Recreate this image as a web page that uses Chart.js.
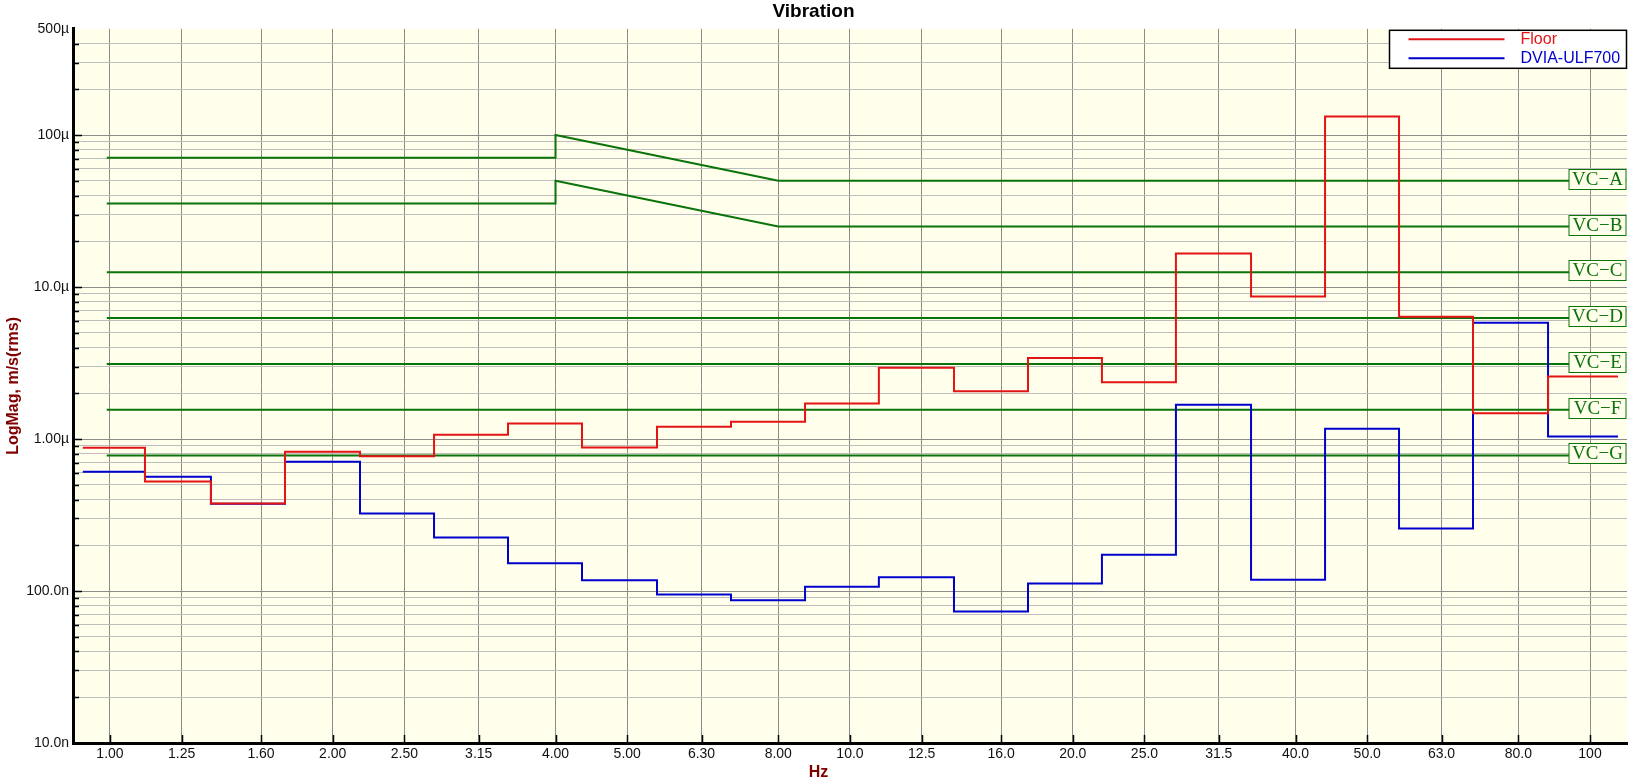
<!DOCTYPE html>
<html>
<head>
<meta charset="utf-8">
<title>Vibration</title>
<script src="https://cdn.jsdelivr.net/npm/chart.js@4.4.1/dist/chart.umd.min.js"></script>
<style>
  html, body { margin: 0; padding: 0; background: #fff; }
  #wrap { width: 1637px; height: 784px; }
</style>
</head>
<body>
<div id="wrap"><canvas id="vibChart"></canvas></div>
<script>
// DATA
let bandLabels = ['1.00', '1.25', '1.60', '2.00', '2.50', '3.15', '4.00', '5.00', '6.30', '8.00',
  '10.0', '12.5', '16.0', '20.0', '25.0', '31.5', '40.0', '50.0', '63.0', '80.0', '100'];
let bandCenters = [1, 1.25, 1.6, 2, 2.5, 3.15, 4, 5, 6.3, 8, 10, 12.5, 16, 20, 25, 31.5, 40, 50, 63, 80, 100];
// where the steps change (Hz)
let bandEdges = [0.919, 1.115, 1.369, 1.724, 2.177, 2.741, 3.450, 4.344, 5.485, 6.906, 8.695,
  10.94, 13.82, 17.40, 21.90, 27.57, 34.83, 43.85, 55.20, 69.49, 87.76, 109.1];

// m/s rms, one value per band
let floorValues = [0.877e-6, 0.526e-6, 0.377e-6, 0.825e-6, 0.769e-6, 1.067e-6, 1.267e-6, 0.881e-6, 1.205e-6, 1.30e-6,
  1.71e-6, 2.94e-6, 2.06e-6, 3.41e-6, 2.36e-6, 16.6e-6, 8.67e-6, 132.5e-6, 6.38e-6, 1.48e-6, 2.58e-6];
let dviaValues = [0.609e-6, 0.565e-6, 0.375e-6, 0.71e-6, 0.324e-6, 0.225e-6, 0.152e-6, 0.1175e-6, 0.095e-6, 0.0868e-6,
  0.1067e-6, 0.123e-6, 0.0734e-6, 0.112e-6, 0.173e-6, 1.68e-6, 0.1187e-6, 1.17e-6, 0.258e-6, 5.82e-6, 1.04e-6];

// vibration criteria curves
let vcNames = ['VC\u2212A', 'VC\u2212B', 'VC\u2212C', 'VC\u2212D', 'VC\u2212E', 'VC\u2212F', 'VC\u2212G'];
let vcSlopeFreq = [0.99, 4, 4, 8, 100];
let vcAValues = [71e-6, 71e-6, 100e-6, 50e-6, 50e-6];
let vcBValues = [35.5e-6, 35.5e-6, 50e-6, 25e-6, 25e-6];
let vcFlatFreq = [0.99, 100];
let vcFlatLevels = [12.5e-6, 6.25e-6, 3.12e-6, 1.56e-6, 0.78e-6];

// y axis labels
let yMajorValues = [1e-8, 1e-7, 1e-6, 1e-5, 1e-4, 5e-4];
let yMajorLabels = ['10.0n', '100.0n', '1.00\u00b5', '10.0\u00b5', '100\u00b5', '500\u00b5'];

let redColor = '#e31414';
let blueColor = '#0000cd';
let greenColor = '#0a730a';
let plotBg = '#ffffec';
let fontFamily = "'Liberation Sans', Arial, sans-serif";

// y grid: every 1..9 of each decade, up to 500u
let yTickValues = [];
for (let e = -8; e <= -5; e++) {
  for (let m = 1; m <= 9; m++) yTickValues.push(m * Math.pow(10, e));
}
[1e-4, 2e-4, 3e-4, 4e-4, 5e-4].forEach(v => yTickValues.push(v));

function majorIndex(v) {
  for (let i = 0; i < yMajorValues.length; i++) {
    if (Math.abs(v / yMajorValues[i] - 1) < 1e-6) return i;
  }
  return -1;
}

function stepPoints(vals) {
  let pts = [];
  vals.forEach((v, i) => {
    pts.push({x: bandEdges[i], y: v});
    pts.push({x: bandEdges[i + 1], y: v});
  });
  return pts;
}

let datasets = [
  {label: 'Floor', data: stepPoints(floorValues), borderColor: redColor, borderWidth: 2},
  {label: 'DVIA-ULF700', data: stepPoints(dviaValues), borderColor: blueColor, borderWidth: 2},
  {label: vcNames[0], vcLabel: true, data: vcSlopeFreq.map((f, i) => ({x: f, y: vcAValues[i]})), borderColor: greenColor, borderWidth: 2},
  {label: vcNames[1], vcLabel: true, data: vcSlopeFreq.map((f, i) => ({x: f, y: vcBValues[i]})), borderColor: greenColor, borderWidth: 2}
];
vcFlatLevels.forEach((lvl, k) => {
  datasets.push({label: vcNames[k + 2], vcLabel: true, data: vcFlatFreq.map(f => ({x: f, y: lvl})), borderColor: greenColor, borderWidth: 2});
});
datasets.forEach(d => { d.pointRadius = 0; d.fill = false; d.tension = 0; });

// plot background
const bgPlugin = {
  id: 'plotBg',
  beforeDraw(chart) {
    const {ctx, chartArea: a} = chart;
    ctx.save();
    ctx.fillStyle = plotBg;
    ctx.fillRect(a.left, a.top, a.right - a.left, a.bottom - a.top);
    ctx.restore();
  }
};

// short tick marks drawn inside the plot
const innerTicks = {
  id: 'innerTicks',
  beforeDatasetsDraw(chart) {
    const {ctx, chartArea: a, scales} = chart;
    ctx.save();
    ctx.strokeStyle = '#000';
    ctx.lineWidth = 1.5;
    ctx.beginPath();
    yTickValues.forEach(v => {
      if (v >= 5e-4 || v <= 1e-8) return;
      const y = Math.round(scales.y.getPixelForValue(v)) + 0.5;
      const len = majorIndex(v) >= 0 ? 9 : 6;
      ctx.moveTo(a.left, y);
      ctx.lineTo(a.left + len, y);
    });
    bandCenters.forEach(f => {
      const x = Math.round(scales.x.getPixelForValue(f)) + 0.5;
      ctx.moveTo(x, a.bottom);
      ctx.lineTo(x, a.bottom - 8);
    });
    ctx.stroke();
    ctx.restore();
  }
};

// boxed names at the right end of the criteria lines
const vcBoxes = {
  id: 'vcBoxes',
  afterDatasetsDraw(chart) {
    const {ctx, chartArea: a, scales} = chart;
    ctx.save();
    chart.data.datasets.forEach(ds => {
      if (!ds.vcLabel) return;
      const last = ds.data[ds.data.length - 1];
      const y = scales.y.getPixelForValue(last.y);
      const w = 57, h = 20;
      const x0 = a.right - w - 1, y0 = Math.round(y - h / 2 - 2) + 0.5;
      ctx.fillStyle = plotBg;
      ctx.fillRect(x0, y0, w, h);
      ctx.strokeStyle = greenColor;
      ctx.lineWidth = 1;
      ctx.strokeRect(x0, y0, w, h);
      ctx.fillStyle = greenColor;
      ctx.font = "19px 'Liberation Serif', 'DejaVu Serif', serif";
      ctx.textAlign = 'center';
      ctx.textBaseline = 'middle';
      ctx.fillText(ds.label, x0 + w / 2, y0 + h / 2 + 1);
    });
    ctx.restore();
  }
};

// boxed legend in the top right corner, plus the x axis title
const cornerLegend = {
  id: 'cornerLegend',
  afterDraw(chart) {
    const {ctx, chartArea: a} = chart;
    const bw = 238, bh = 38;
    const bx = a.right - bw + 0.5, by = a.top + 1.5;
    ctx.save();
    ctx.fillStyle = '#fff';
    ctx.fillRect(bx, by, bw - 1, bh);
    ctx.strokeStyle = '#000';
    ctx.lineWidth = 1.5;
    ctx.strokeRect(bx, by, bw - 1, bh);
    ctx.font = '16px ' + fontFamily;
    ctx.textBaseline = 'middle';
    ctx.textAlign = 'left';
    [0, 1].forEach((di, row) => {
      const ds = chart.data.datasets[di];
      const yy = by + 9 + row * 19;
      ctx.strokeStyle = ds.borderColor;
      ctx.lineWidth = 2;
      ctx.beginPath();
      ctx.moveTo(bx + 19, yy);
      ctx.lineTo(bx + 115, yy);
      ctx.stroke();
      ctx.fillStyle = ds.borderColor;
      ctx.fillText(ds.label, bx + 131, yy);
    });
    // "Hz" sits under the middle of the whole figure
    ctx.fillStyle = '#800000';
    ctx.font = 'bold 16px ' + fontFamily;
    ctx.textAlign = 'center';
    ctx.fillText('Hz', chart.width / 2, a.bottom + 30);
    ctx.restore();
  }
};

let vibCtx = document.getElementById('vibChart').getContext('2d');
let vibChart = new Chart(vibCtx, {
  type: 'line',
  data: {datasets: datasets},
  options: {
    responsive: true,
    maintainAspectRatio: false,
    animation: false,
    devicePixelRatio: 1,
    layout: {padding: {left: 0, right: 10, top: 0, bottom: 0}},
    plugins: {
      legend: {display: false},
      tooltip: {enabled: false},
      title: {
        display: true,
        text: 'Vibration',
        color: '#000',
        font: {family: fontFamily, size: 19, weight: 'bold'},
        padding: {top: 0, bottom: 6}
      }
    },
    scales: {
      x: {
        type: 'logarithmic',
        min: 0.8913,
        max: 112.2,
        afterBuildTicks: s => { s.ticks = bandCenters.map(v => ({value: v})); },
        afterFit: s => { s.height = 41; },
        ticks: {
          autoSkip: false, maxRotation: 0, minRotation: 0, padding: 3,
          color: '#111', font: {family: fontFamily, size: 14},
          callback: v => bandLabels[bandCenters.indexOf(v)]
        },
        grid: {color: '#8c8c8c', lineWidth: 1, drawTicks: false},
        border: {display: true, color: '#000', width: 3}
      },
      y: {
        type: 'logarithmic',
        min: 1e-8,
        max: 5e-4,
        afterBuildTicks: s => { s.ticks = yTickValues.map(v => ({value: v})); },
        afterFit: s => { s.width = 73; },
        ticks: {
          autoSkip: false, padding: 4,
          color: '#111', font: {family: fontFamily, size: 14},
          callback: v => { const i = majorIndex(v); return i >= 0 ? yMajorLabels[i] : ''; }
        },
        grid: {
          drawTicks: false,
          lineWidth: 1,
          color: c => {
            const v = c.tick ? c.tick.value : 0;
            if (v >= 5e-4) return 'rgba(0,0,0,0)';
            return majorIndex(v) >= 0 ? '#8c8c8c' : '#bdbdbd';
          }
        },
        border: {display: true, color: '#000', width: 3},
        title: {
          display: true,
          text: 'LogMag, m/s(rms)',
          color: '#800000',
          font: {family: fontFamily, size: 16, weight: 'bold'},
          padding: {top: 4, bottom: 0}
        }
      }
    }
  },
  plugins: [bgPlugin, innerTicks, vcBoxes, cornerLegend]
});
</script>
</body>
</html>
